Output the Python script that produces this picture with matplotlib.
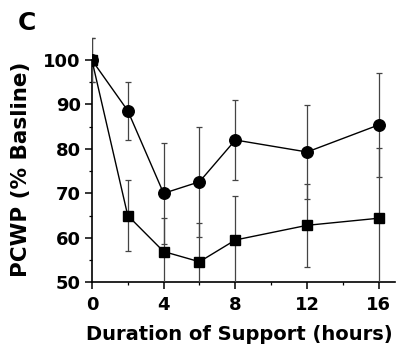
import matplotlib
matplotlib.use("Agg")
import matplotlib.pyplot as plt
from matplotlib.ticker import MultipleLocator

plt.rcParams['font.family'] = ['DejaVu Sans']

# hours of support
hours = [0, 2, 4, 6, 8, 12, 16]

# circles
circ_mean = [100, 88.6, 70.0, 72.6, 82.0, 79.3, 85.4]
circ_sd = [5.0, 6.5, 11.4, 12.4, 9.0, 10.6, 11.7]

# squares
sq_mean = [100, 65.0, 56.9, 54.6, 59.5, 62.8, 64.4]
sq_sd = [5.0, 8.0, 7.5, 8.8, 9.8, 9.3, 15.8]

fig = plt.figure(figsize=(4.03, 3.51), dpi=100, facecolor="white")
# top of axes is left above 100 so the error bars there are not cut
ax = fig.add_axes([0.228, 0.196, 0.752, 0.709])

for mean, sd, mk, ms in [(circ_mean, circ_sd, "o", 8.3), (sq_mean, sq_sd, "s", 7.3)]:
    ax.errorbar(hours, mean, yerr=sd, fmt="-", marker=mk, color="black", mfc="black",
                ms=ms, lw=1.0, elinewidth=0.9, capsize=2.5, capthick=0.9,
                ecolor="#444444", zorder=3)

ax.set_xlim(0, 16.9)
ax.set_ylim(50, 106)
ax.spines["top"].set_visible(False)
ax.spines["right"].set_visible(False)
ax.spines["left"].set_bounds(50, 100)
ax.spines["left"].set_linewidth(1.2)
ax.spines["bottom"].set_linewidth(1.2)

ax.set_xticks([0, 4, 8, 12, 16])
ax.set_yticks([50, 60, 70, 80, 90, 100])
ax.xaxis.set_minor_locator(MultipleLocator(2))
ax.set_yticks([55, 65, 75, 85, 95], minor=True)
ax.tick_params(which="major", direction="out", length=5, width=1.1, labelsize=13, pad=3)
ax.tick_params(axis="x", which="major", pad=5)
ax.tick_params(which="minor", direction="out", length=2.5, width=0.9)
for lbl in ax.get_xticklabels() + ax.get_yticklabels():
    lbl.set_fontweight("bold")

ax.set_xlabel("Duration of Support (hours)", fontsize=14, fontweight="bold")
ax.xaxis.set_label_coords(0.485, -0.172)
ax.set_ylabel("PCWP (% Basline)", fontsize=15.5, fontweight="bold")
ax.yaxis.set_label_coords(-0.2, (75.5 - 50) / 56)

fig.text(0.045, 0.934, "C", fontsize=18, fontweight="bold", ha="left", va="center")

fig.savefig("out.png", dpi=100, facecolor="white")
